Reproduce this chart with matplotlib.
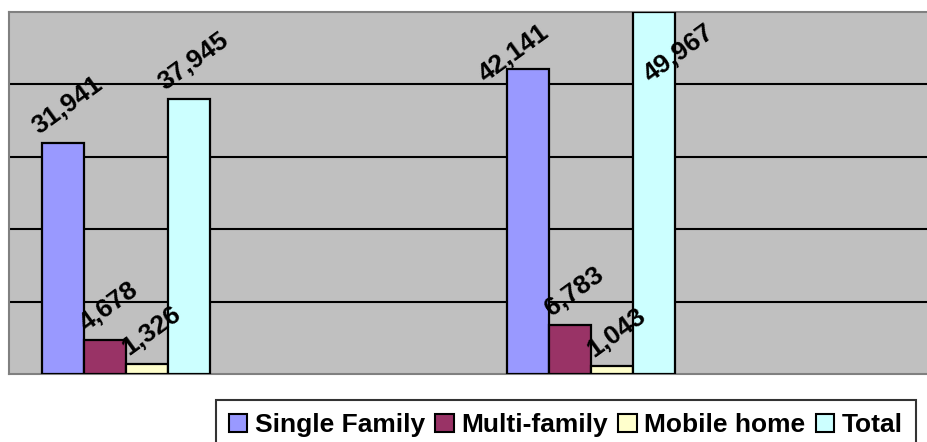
import numpy as np
import matplotlib.pyplot as plt
from matplotlib.patches import Patch

plt.rcParams['font.family'] = ['Liberation Sans', 'DejaVu Sans']

# data
GROUPS = ['Group 1', 'Group 2']
SERIES = ['Single Family', 'Multi-family', 'Mobile home', 'Total']
VALUES = {
    'Single Family': [31941, 42141],
    'Multi-family': [4678, 6783],
    'Mobile home': [1326, 1043],
    'Total': [37945, 49967],
}
COLORS = ['#9999FF', '#993366', '#FFFFCC', '#CCFFFF']

WIDTH = 0.0905
YMAX = 50000

fig = plt.figure(figsize=(9.27, 4.42), dpi=100)
ax = fig.add_axes([9 / 927, 1 - 374 / 442, 1 - 9 / 927, 362 / 442])
ax.set_facecolor('#C0C0C0')

x = np.arange(len(GROUPS))
handles = []
for i, (name, color) in enumerate(zip(SERIES, COLORS)):
    pos = x + (i - 1.5) * WIDTH
    ax.bar(pos, VALUES[name], width=WIDTH, color=color,
           edgecolor='black', linewidth=1.6, zorder=3)
    handles.append(Patch(facecolor=color, edgecolor='black', linewidth=1.5,
                         label=name))
    for j, (px, v) in enumerate(zip(pos, VALUES[name])):
        txt = f'{v:,}'
        if v > 40000:
            # labels that would leave the plot area get pushed inside
            nudge = -10 if name == 'Single Family' else 18
            ax.annotate(txt, xy=(px, YMAX), xytext=(nudge, -6),
                        textcoords='offset points', rotation=36,
                        ha='center', va='top', fontsize=19,
                        fontweight='bold', zorder=4)
        else:
            ax.annotate(txt, xy=(px, v), xytext=(3, 3),
                        textcoords='offset points', rotation=36,
                        ha='center', va='bottom', fontsize=19,
                        fontweight='bold', zorder=4)

ax.set_xlim(-0.2516, 1.7226)
ax.set_ylim(0, YMAX)
ax.set_yticks(np.arange(10000, YMAX, 10000))
ax.yaxis.grid(True, color='black', linewidth=1.5, zorder=1)
ax.set_axisbelow(True)
ax.tick_params(left=False, bottom=False, labelleft=False, labelbottom=False)
for s in ax.spines.values():
    s.set_color('#808080')
    s.set_linewidth(1.5)
ax.spines['right'].set_visible(False)

leg = fig.legend(handles=handles, loc='upper right',
                 bbox_to_anchor=(916 / 927, 1 - 400 / 442), ncol=4,
                 frameon=True, fancybox=False, edgecolor='black',
                 prop={'weight': 'bold', 'size': 19},
                 handlelength=0.7, handleheight=0.7, handletextpad=0.28,
                 columnspacing=0.4, borderpad=0.5, borderaxespad=0)
leg.get_frame().set_linewidth(1.5)

fig.savefig('out.png', dpi=100)
